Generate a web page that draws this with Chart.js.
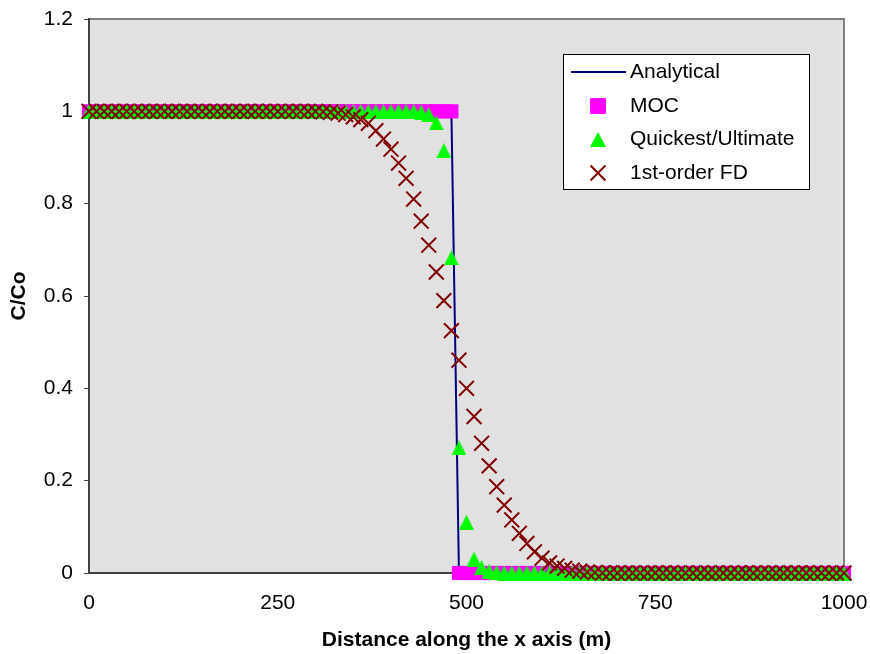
<!DOCTYPE html>
<html>
<head>
<meta charset="utf-8">
<title>C/Co along the x axis</title>
<script src="https://cdn.jsdelivr.net/npm/chart.js@4.4.1/dist/chart.umd.min.js"></script>
<style>
  html, body { margin: 0; padding: 0; background: #fff; }
  #wrap { position: relative; width: 870px; height: 654px; }
</style>
</head>
<body>
<div id="wrap"><canvas id="chart"></canvas></div>
<script>
// x positions (m), every 10 m
const distance = [
  0, 10, 20, 30, 40, 50, 60, 70, 80, 90,
  100, 110, 120, 130, 140, 150, 160, 170, 180, 190,
  200, 210, 220, 230, 240, 250, 260, 270, 280, 290,
  300, 310, 320, 330, 340, 350, 360, 370, 380, 390,
  400, 410, 420, 430, 440, 450, 460, 470, 480, 490,
  500, 510, 520, 530, 540, 550, 560, 570, 580, 590,
  600, 610, 620, 630, 640, 650, 660, 670, 680, 690,
  700, 710, 720, 730, 740, 750, 760, 770, 780, 790,
  800, 810, 820, 830, 840, 850, 860, 870, 880, 890,
  900, 910, 920, 930, 940, 950, 960, 970, 980, 990,
  1000
];

const analytical = [
  1, 1, 1, 1, 1, 1, 1, 1, 1, 1,
  1, 1, 1, 1, 1, 1, 1, 1, 1, 1,
  1, 1, 1, 1, 1, 1, 1, 1, 1, 1,
  1, 1, 1, 1, 1, 1, 1, 1, 1, 1,
  1, 1, 1, 1, 1, 1, 1, 1, 1, 0,
  0, 0, 0, 0, 0, 0, 0, 0, 0, 0,
  0, 0, 0, 0, 0, 0, 0, 0, 0, 0,
  0, 0, 0, 0, 0, 0, 0, 0, 0, 0,
  0, 0, 0, 0, 0, 0, 0, 0, 0, 0,
  0, 0, 0, 0, 0, 0, 0, 0, 0, 0,
  0
];

const moc = [
  1, 1, 1, 1, 1, 1, 1, 1, 1, 1,
  1, 1, 1, 1, 1, 1, 1, 1, 1, 1,
  1, 1, 1, 1, 1, 1, 1, 1, 1, 1,
  1, 1, 1, 1, 1, 1, 1, 1, 1, 1,
  1, 1, 1, 1, 1, 1, 1, 1, 1, 0,
  0, 0, 0, 0, 0, 0, 0, 0, 0, 0,
  0, 0, 0, 0, 0, 0, 0, 0, 0, 0,
  0, 0, 0, 0, 0, 0, 0, 0, 0, 0,
  0, 0, 0, 0, 0, 0, 0, 0, 0, 0,
  0, 0, 0, 0, 0, 0, 0, 0, 0, 0,
  0
];

const quickest = [
  1, 1, 1, 1, 1, 1, 1, 1, 1, 1,
  1, 1, 1, 1, 1, 1, 1, 1, 1, 1,
  1, 1, 1, 1, 1, 1, 1, 1, 1, 1,
  1, 1, 1, 1, 1, 1, 1, 1, 1, 1,
  1, 1, 1, 1, 0.998, 0.993, 0.975, 0.915, 0.683, 0.271,
  0.11, 0.03, 0.012, 0.004, 0.001, 0, 0, 0, 0, 0,
  0, 0, 0, 0, 0, 0, 0, 0, 0, 0,
  0, 0, 0, 0, 0, 0, 0, 0, 0, 0,
  0, 0, 0, 0, 0, 0, 0, 0, 0, 0,
  0, 0, 0, 0, 0, 0, 0, 0, 0, 0,
  0
];

const firstOrderFD = [
  1, 1, 1, 1, 1, 1, 1, 1, 1, 1,
  1, 1, 1, 1, 1, 1, 1, 1, 1, 1,
  1, 1, 1, 1, 1, 1, 1, 1, 1, 1,
  1, 0.999, 0.998, 0.996, 0.993, 0.988, 0.982, 0.974, 0.958, 0.94,
  0.918, 0.888, 0.855, 0.81, 0.762, 0.71, 0.652, 0.59, 0.525, 0.461,
  0.4, 0.339, 0.281, 0.232, 0.187, 0.147, 0.115, 0.086, 0.064, 0.046,
  0.032, 0.022, 0.015, 0.01, 0.006, 0.004, 0.002, 0.001, 0, 0,
  0, 0, 0, 0, 0, 0, 0, 0, 0, 0,
  0, 0, 0, 0, 0, 0, 0, 0, 0, 0,
  0, 0, 0, 0, 0, 0, 0, 0, 0, 0,
  0
];

const seriesNames = ['Analytical', 'MOC', 'Quickest/Ultimate', '1st-order FD'];
const xTicks = [0, 250, 500, 750, 1000];
const yTicks = [0, 0.2, 0.4, 0.6, 0.8, 1, 1.2];

const FONT = "'Liberation Sans', Arial, sans-serif";

// Excel-like triangle marker, centred on its box
function triangleMarker(w, h, color) {
    const c = document.createElement('canvas');
    c.width = w;
    c.height = h;
    const g = c.getContext('2d');
    g.fillStyle = color;
    g.beginPath();
    g.moveTo(w / 2, 0);
    g.lineTo(w, h);
    g.lineTo(0, h);
    g.closePath();
    g.fill();
    return c;
}

const triMain = triangleMarker(15, 15, '#00FF00');
const triLegend = triangleMarker(16, 15, '#00FF00');

function pairs(ys) {
    return distance.map((x, i) => ({ x: x, y: ys[i] }));
}

// grey plot area with the top/right frame
const plotFrame = {
    id: 'plotFrame',
    beforeDraw(chart) {
        const { ctx, chartArea: a } = chart;
        ctx.save();
        ctx.fillStyle = '#E1E1E1';
        ctx.fillRect(a.left, a.top, a.right - a.left, a.bottom - a.top);
        ctx.strokeStyle = '#808080';
        ctx.lineWidth = 2;
        ctx.beginPath();
        ctx.moveTo(a.left, a.top);
        ctx.lineTo(a.right, a.top);
        ctx.lineTo(a.right, a.bottom);
        ctx.stroke();
        ctx.restore();
    }
};

// boxed legend inside the plot, like the spreadsheet one
const boxLegend = {
    id: 'boxLegend',
    afterDraw(chart) {
        const ctx = chart.ctx;
        const a = chart.chartArea;
        const bx = a.right - 281, by = a.top + 35, bw = 246, bh = 135;
        ctx.save();
        ctx.fillStyle = '#fff';
        ctx.fillRect(bx, by, bw, bh);
        ctx.strokeStyle = '#000';
        ctx.lineWidth = 1;
        ctx.strokeRect(bx + 0.5, by + 0.5, bw, bh);

        const rowY = [by + 18, by + 52, by + 85.5, by + 119];
        const mx = bx + 35;
        ctx.font = '21px ' + FONT;
        ctx.fillStyle = '#000';
        ctx.textBaseline = 'middle';
        ctx.textAlign = 'left';
        seriesNames.forEach((name, i) => ctx.fillText(name, bx + 67, rowY[i]));

        // Analytical
        ctx.strokeStyle = '#000080';
        ctx.lineWidth = 2;
        ctx.beginPath();
        ctx.moveTo(bx + 8, rowY[0]);
        ctx.lineTo(bx + 63, rowY[0]);
        ctx.stroke();

        const draw = Chart.helpers.drawPoint;
        // MOC
        ctx.fillStyle = '#FF00FF';
        ctx.strokeStyle = '#FF00FF';
        ctx.lineWidth = 1;
        draw(ctx, { pointStyle: 'rect', radius: 11, borderWidth: 0, rotation: 0 }, mx, rowY[1]);
        ctx.fill();
        // Quickest
        draw(ctx, { pointStyle: triLegend, radius: 8, borderWidth: 0, rotation: 0 }, mx, rowY[2]);
        // FD
        ctx.strokeStyle = '#800000';
        ctx.lineWidth = 2;
        draw(ctx, { pointStyle: 'crossRot', radius: 10.5, borderWidth: 2, rotation: 0 }, mx, rowY[3]);
        ctx.restore();
    }
};

const ctx = document.getElementById('chart').getContext('2d');

new Chart(ctx, {
    type: 'scatter',
    data: {
        datasets: [
            {
                label: seriesNames[0],
                data: pairs(analytical),
                showLine: true,
                borderColor: '#000080',
                borderWidth: 2,
                pointRadius: 0,
                pointHoverRadius: 0,
                clip: false,
                order: 3
            },
            {
                label: seriesNames[1],
                data: pairs(moc),
                pointStyle: 'rect',
                pointRadius: 10,
                backgroundColor: '#FF00FF',
                borderColor: '#FF00FF',
                borderWidth: 0,
                clip: false,
                order: 2
            },
            {
                label: seriesNames[2],
                data: pairs(quickest),
                pointStyle: triMain,
                pointRadius: 8,
                backgroundColor: '#00FF00',
                borderColor: '#00FF00',
                borderWidth: 0,
                clip: false,
                order: 1
            },
            {
                label: seriesNames[3],
                data: pairs(firstOrderFD),
                pointStyle: 'crossRot',
                pointRadius: 10.5,
                backgroundColor: '#800000',
                borderColor: '#800000',
                borderWidth: 2,
                clip: false,
                order: 0
            }
        ]
    },
    options: {
        responsive: true,
        maintainAspectRatio: false,
        animation: false,
        layout: { padding: { top: 19, right: 26, left: 0, bottom: 0 } },
        plugins: {
            legend: { display: false },
            tooltip: { enabled: false }
        },
        scales: {
            x: {
                type: 'linear',
                min: 0,
                max: 1000,
                afterBuildTicks: (scale) => { scale.ticks = xTicks.map(v => ({ value: v })); },
                afterFit: (scale) => {
                    scale.height = 81;
                    scale.paddingLeft = 0;
                    scale.paddingRight = 0;
                },
                grid: { drawOnChartArea: false, tickLength: 5, color: 'rgba(0,0,0,0)', lineWidth: 1 },
                border: { color: '#404040', width: 2 },
                ticks: {
                    padding: 13,
                    color: '#000',
                    maxRotation: 0,
                    font: { family: FONT, size: 21 },
                    callback: (v) => String(v)
                },
                title: {
                    display: true,
                    text: 'Distance along the x axis (m)',
                    color: '#000',
                    padding: { top: 0, bottom: 1 },
                    font: { family: FONT, size: 21, weight: 'bold' }
                }
            },
            y: {
                type: 'linear',
                min: 0,
                max: 1.2,
                afterBuildTicks: (scale) => { scale.ticks = yTicks.map(v => ({ value: v })); },
                afterFit: (scale) => {
                    scale.width = 89;
                    scale.paddingTop = 0;
                    scale.paddingBottom = 0;
                },
                grid: { drawOnChartArea: false, tickLength: 5, color: '#404040', lineWidth: 1 },
                border: { color: '#404040', width: 2 },
                ticks: {
                    padding: 11,
                    color: '#000',
                    font: { family: FONT, size: 21 },
                    callback: (v) => String(Math.round(v * 10) / 10)
                },
                title: {
                    display: true,
                    text: 'C/Co',
                    color: '#000',
                    padding: { top: 7, bottom: 0 },
                    font: { family: FONT, size: 21, weight: 'bold' }
                }
            }
        }
    },
    plugins: [plotFrame, boxLegend]
});
</script>
</body>
</html>
